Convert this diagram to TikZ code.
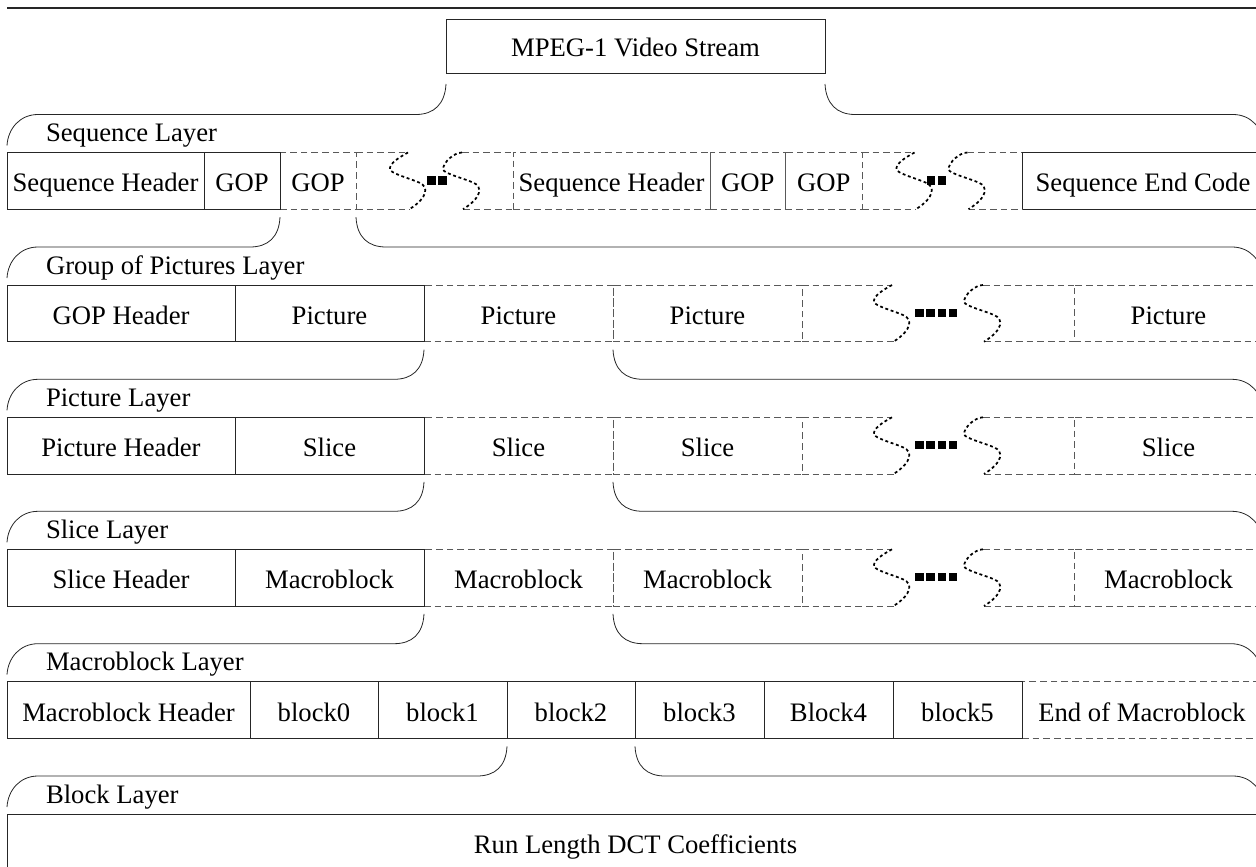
\documentclass[tikz,border=0pt]{standalone}
\usepackage{fontspec}
\setmainfont{Liberation Serif}
\usetikzlibrary{calc}

% one cell of a layer row: name, left x, right x, top y, style, text
\newcommand{\mkcell}[6]{\node[cellbox,#5,minimum width={(#3-#2)*0.75pt}] (#1) at (#2,#4) {#6};}

% elided run of a row: left x, first break x, second break x, right x, top y, list of square positions
\newcommand{\gapregion}[6]{%
  \draw[dashbox] (#1,#5) -- (#2,#5);
  \draw[dashbox] (#1,#5+56.7) -- (#2+1.5,#5+56.7);
  \draw[dashbox] (#3,#5) -- (#4,#5);
  \draw[dashbox] (#3+1,#5+56.7) -- (#4,#5+56.7);
  \begin{scope}[shift={(#2,#5)}]
    \draw[squig] (0,0) .. controls (-9,5) and (-19,11) .. (-18,17)
      .. controls (-17,21) and (2,26) .. (11,30)
      .. controls (21,34) and (20,45) .. (1.5,56.7);
  \end{scope}
  \begin{scope}[shift={(#3,#5)}]
    \draw[squig] (0,0) .. controls (-8,0) and (-19,10) .. (-19,17)
      .. controls (-18,21) and (2,26) .. (11,30)
      .. controls (21,34) and (20,45) .. (1,56.7);
  \end{scope}
  \foreach \sx in {#6} {\fill (\sx,#5+23.5) rectangle ++(8.5,8.5);}
}

% bracket opening one field into the next layer: source node, first and last node of next row, gap below source
\newcommand{\layerbrace}[4]{%
  \draw[brace] ($(#1.south west)+(0,#4)$) .. controls +(-1,20) and +(18,0) .. ($(#1.south west |- #2.north west)+(-30,-38)$)
     -- ($(#2.north west)+(31,-38)$) .. controls +(-18,0) and +(1,-17) .. ($(#2.north west)+(0,-7)$);
  \draw[brace] ($(#1.south east)+(0,#4)$) .. controls +(1,20) and +(-18,0) .. ($(#1.south east |- #2.north west)+(30,-38)$)
     -- ($(#3.north east)+(-31,-38)$) .. controls +(18,0) and +(-1,-17) .. ($(#3.north east)+(0,-7)$);
}

\begin{document}
\begin{tikzpicture}[x=0.75pt,y=-0.75pt,
  every node/.style={inner sep=0pt,outer sep=0pt,font=\fontsize{20}{24}\selectfont},
  solidbox/.style={draw=black!85,line width=0.6pt},
  dashbox/.style={draw=black!65,line width=0.6pt,dash pattern=on 5pt off 3pt},
  cellbox/.style={rectangle,anchor=north west,minimum height=42.5pt,text height=17pt,text depth=0.5pt},
  brace/.style={draw=black!85,line width=0.6pt},
  squig/.style={draw=black,line width=1.3pt,dash pattern=on 2.2pt off 2pt},
  layerlabel/.style={anchor=base west}]
\useasboundingbox (0,0) rectangle (1256,867);
\clip (0,0) rectangle (1256,867);

% rule at the top
\draw[black!85,line width=0.8pt] (7,8) -- (1300,8);

% stream
\node[cellbox,solidbox,minimum width={379*0.75pt},minimum height={54*0.75pt}] (mpeg) at (446,19) {MPEG-1 Video Stream};

% sequence layer
\node[layerlabel] (labseq) at (46,141.5) {Sequence Layer};
\mkcell{gopB}{280}{356}{152.5}{dashbox}{GOP}
\mkcell{shB}{513}{710}{152.5}{dashbox}{Sequence Header}
\mkcell{gopC}{710}{785.5}{152.5}{dashbox}{GOP}
\mkcell{gopD}{785.5}{862}{152.5}{dashbox}{GOP}
\mkcell{shA}{7}{204}{152.5}{solidbox}{Sequence Header}
\mkcell{gopA}{204}{280}{152.5}{solidbox}{GOP}
\mkcell{seqend}{1022}{1264}{152.5}{solidbox}{Sequence End Code}
\gapregion{356}{408}{462}{513}{152.5}{427,438}
\gapregion{862}{914.5}{967.5}{1022}{152.5}{926.5,937.5}

% group of pictures layer
\node[layerlabel] (labgop) at (46,274) {Group of Pictures Layer};
\mkcell{picB}{424}{613}{285}{dashbox}{Picture}
\mkcell{picC}{613}{802}{285}{dashbox}{Picture}
\mkcell{picD}{1074}{1263}{285}{dashbox}{Picture}
\mkcell{gh}{7}{235}{285}{solidbox}{GOP Header}
\mkcell{picA}{235}{424}{285}{solidbox}{Picture}
\gapregion{802}{892}{983}{1074}{285}{915,926.3,937.6,948.9}

% picture layer
\node[layerlabel] (labpic) at (46,406.3) {Picture Layer};
\mkcell{slB}{424}{613}{417.3}{dashbox}{Slice}
\mkcell{slC}{613}{802}{417.3}{dashbox}{Slice}
\mkcell{slD}{1074}{1263}{417.3}{dashbox}{Slice}
\mkcell{phdr}{7}{235}{417.3}{solidbox}{Picture Header}
\mkcell{slA}{235}{424}{417.3}{solidbox}{Slice}
\gapregion{802}{892}{983}{1074}{417.3}{915,926.3,937.6,948.9}

% slice layer
\node[layerlabel] (labsl) at (46,538.3) {Slice Layer};
\mkcell{mbB}{424}{613}{549.3}{dashbox}{Macroblock}
\mkcell{mbC}{613}{802}{549.3}{dashbox}{Macroblock}
\mkcell{mbD}{1074}{1263}{549.3}{dashbox}{Macroblock}
\mkcell{shdr}{7}{235}{549.3}{solidbox}{Slice Header}
\mkcell{mbA}{235}{424}{549.3}{solidbox}{Macroblock}
\gapregion{802}{892}{983}{1074}{549.3}{915,926.3,937.6,948.9}

% macroblock layer
\node[layerlabel] (labmb) at (46,670.7) {Macroblock Layer};
\mkcell{eom}{1022}{1262}{681.7}{dashbox}{End of Macroblock}
\mkcell{mbh}{7}{250}{681.7}{solidbox}{Macroblock Header}
\mkcell{b0}{250}{378}{681.7}{solidbox}{block0}
\mkcell{b1}{378}{507}{681.7}{solidbox}{block1}
\mkcell{b2}{507}{635}{681.7}{solidbox}{block2}
\mkcell{b3}{635}{764}{681.7}{solidbox}{block3}
\mkcell{b4}{764}{893}{681.7}{solidbox}{Block4}
\mkcell{b5}{893}{1022}{681.7}{solidbox}{block5}

% block layer
\node[layerlabel] (labblk) at (46,803) {Block Layer};
\mkcell{rl}{7}{1264}{814}{solidbox}{Run Length DCT Coefficients}

% brackets between layers
\layerbrace{mpeg}{shA}{seqend}{11}
\layerbrace{gopB}{gh}{picD}{8}
\layerbrace{picB}{phdr}{slD}{8}
\layerbrace{slB}{shdr}{mbD}{8}
\layerbrace{mbB}{mbh}{eom}{8}
\layerbrace{b2}{rl}{rl}{8}
\end{tikzpicture}
\end{document}
